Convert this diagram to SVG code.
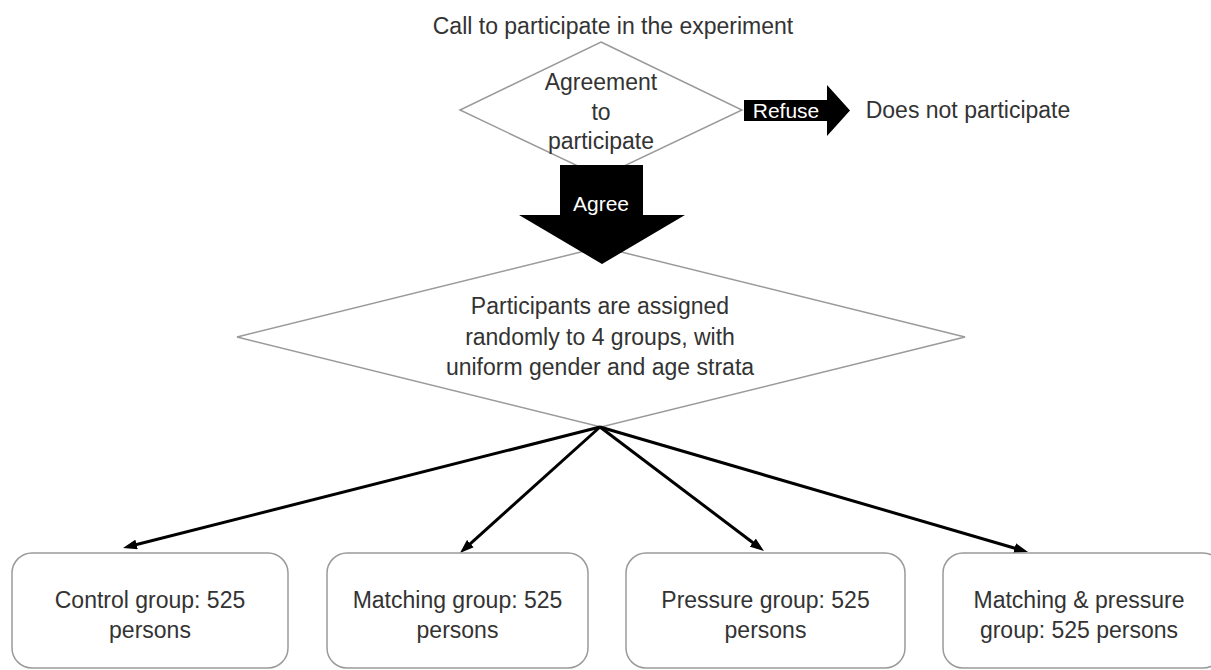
<svg xmlns="http://www.w3.org/2000/svg" width="1211" height="670" viewBox="0 0 1211 670">
<defs>
<style>
text{font-family:"Liberation Sans",Arial,sans-serif;font-size:23px;fill:#333;text-anchor:middle}
.shape{fill:#fff;stroke:#9a9a9a;stroke-width:1.5}
.block{fill:#000;stroke:none}
.wt{fill:#fff}
.conn{stroke:#000;stroke-width:3;fill:none}
</style>
<marker id="ah" markerUnits="userSpaceOnUse" markerWidth="14" markerHeight="10" refX="4" refY="5" orient="auto">
<path d="M0,0 L14,5 L0,10 z" fill="#000"/>
</marker>
</defs>
<rect width="1211" height="670" fill="#fff"/>
<g id="title">
<text x="613" y="34">Call to participate in the experiment</text>
</g>
<g id="agreement">
<polygon class="shape" points="601,42 742,110 601,177 460,110"/>
<text x="601" y="90">Agreement</text>
<text x="601" y="119.5">to</text>
<text x="601" y="149">participate</text>
</g>
<g id="refuse">
<polygon class="block" points="744,100 827,100 827,85 850,110.5 827,136 827,121 744,121"/>
<text class="wt" x="786" y="118" style="font-size:21px">Refuse</text>
</g>
<g id="not-participate">
<text x="968" y="118">Does not participate</text>
</g>
<g id="assign">
<polygon class="shape" points="601,247 965,337 601,427 237,337"/>
<text x="600" y="314">Participants are assigned</text>
<text x="600" y="344.5">randomly to 4 groups, with</text>
<text x="600" y="375">uniform gender and age strata</text>
</g>
<g id="agree">
<polygon class="block" points="560,165 643,165 643,215 685,215 602,264 519,215 560,215"/>
<text class="wt" x="601" y="211" style="font-size:21px">Agree</text>
</g>
<g id="connectors">
<line class="conn" x1="600" y1="427" x2="132.7" y2="545.5" marker-end="url(#ah)"/>
<line class="conn" x1="600" y1="427" x2="467.4" y2="546.3" marker-end="url(#ah)"/>
<line class="conn" x1="600" y1="427" x2="756" y2="545" marker-end="url(#ah)"/>
<line class="conn" x1="600" y1="427" x2="1018.4" y2="549.2" marker-end="url(#ah)"/>
</g>
<g id="control">
<rect class="shape" x="12" y="553" width="276" height="115" rx="20"/>
<text x="150" y="608">Control group: 525</text>
<text x="150" y="637.5">persons</text>
</g>
<g id="matching">
<rect class="shape" x="327" y="553" width="261" height="115" rx="20"/>
<text x="457.5" y="608">Matching group: 525</text>
<text x="457.5" y="637.5">persons</text>
</g>
<g id="pressure">
<rect class="shape" x="626" y="553" width="279" height="115" rx="20"/>
<text x="765.5" y="608">Pressure group: 525</text>
<text x="765.5" y="637.5">persons</text>
</g>
<g id="matching-pressure">
<rect class="shape" x="943" y="553" width="280" height="115" rx="20"/>
<text x="1079" y="608">Matching &amp; pressure</text>
<text x="1079" y="637.5">group: 525 persons</text>
</g>
</svg>
